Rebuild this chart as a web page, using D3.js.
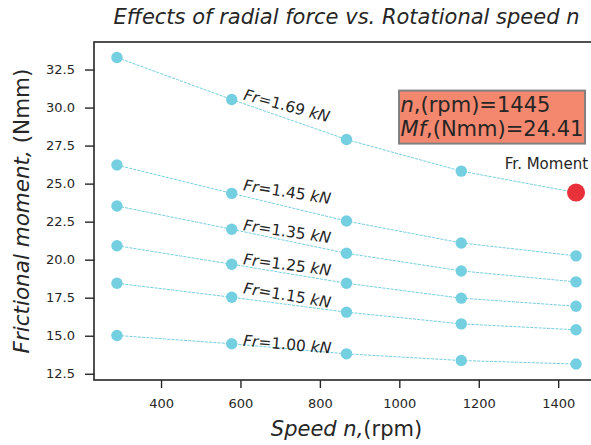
<!DOCTYPE html>
<html>
<head>
<meta charset="utf-8">
<script src="https://cdn.jsdelivr.net/npm/d3@7"></script>
<style>
  html, body { margin: 0; padding: 0; background: #fff; }
  svg { display: block; font-family: "DejaVu Sans", sans-serif; }
</style>
</head>
<body>
<figure id="chart" style="margin:0"></figure>
<script>
// rotational speed n (rpm)
const speeds = [289, 578, 867, 1156, 1445];
// radial force labels (kN)
const forces = ["1.69", "1.45", "1.35", "1.25", "1.15", "1.00"];
// frictional moment (Nmm) per radial force
const m169 = [33.29, 30.53, 27.90, 25.82, 24.41];
const m145 = [26.22, 24.36, 22.54, 21.10, 20.25];
const m135 = [23.53, 22.00, 20.42, 19.26, 18.54];
const m125 = [20.92, 19.70, 18.45, 17.47, 16.94];
const m115 = [18.45, 17.53, 16.55, 15.78, 15.39];
const m100 = [15.02, 14.47, 13.81, 13.37, 13.14];
const xTicks = [400, 600, 800, 1000, 1200, 1400];
const yTicks = [12.5, 15.0, 17.5, 20.0, 22.5, 25.0, 27.5, 30.0, 32.5];
const highlight = { n: 1445, mf: 24.41 };

const series = [m169, m145, m135, m125, m115, m100];
const labelRot = [15, 9, 8.5, 7.5, 9.5, 5];
const labelDy = [0, -3, 1, 0, -4, 2];

const width = 591, height = 445;
const pLeft = 94, pRight = 599, pTop = 42, pBottom = 380;
const ink = "#262626";
const cyan = "#74cfe0";

const svg = d3.select("#chart").append("svg")
  .attr("width", width)
  .attr("height", height);

svg.append("rect").attr("width", width).attr("height", height).attr("fill", "#fff");

const x = d3.scaleLinear().domain([231.2, 1502.8]).range([pLeft, pRight]);
const y = d3.scaleLinear().domain([12.09, 34.31]).range([pBottom, pTop]);

// axes
const xAxis = svg.append("g")
  .attr("transform", `translate(0,${pBottom})`)
  .call(d3.axisBottom(x).tickValues(xTicks).tickFormat(d3.format("d")).tickSize(8).tickPadding(11));
const yAxis = svg.append("g")
  .attr("transform", `translate(${pLeft},0)`)
  .call(d3.axisLeft(y).tickValues(yTicks).tickFormat(d3.format(".1f")).tickSize(9).tickPadding(10));

[xAxis, yAxis].forEach(g => {
  g.select(".domain").remove();
  g.selectAll(".tick line").attr("stroke", ink).attr("stroke-width", 1.4);
  g.selectAll(".tick text").attr("fill", ink).style("font-size", "13px").style("font-family", "DejaVu Sans");
});

// frame
svg.append("rect")
  .attr("x", pLeft).attr("y", pTop)
  .attr("width", pRight - pLeft).attr("height", pBottom - pTop)
  .attr("fill", "none").attr("stroke", ink).attr("stroke-width", 1.6);

const line = d3.line().x((d, i) => x(speeds[i])).y(d => y(d));

series.forEach((vals, k) => {
  svg.append("path")
    .datum(vals)
    .attr("d", line)
    .attr("fill", "none")
    .attr("stroke", cyan)
    .attr("stroke-width", 1)
    .attr("stroke-dasharray", "3,1.2");

  svg.selectAll(null)
    .data(vals.map((v, i) => [speeds[i], v]).filter(d => !(k === 0 && d[0] === highlight.n)))
    .enter()
    .append("circle")
    .attr("cx", d => x(d[0]))
    .attr("cy", d => y(d[1]))
    .attr("r", 5.7)
    .attr("fill", cyan);

  const lx = x(speeds[1]) + 11;
  const ly = y(vals[1]) + labelDy[k];
  const t = svg.append("text")
    .attr("x", lx).attr("y", ly)
    .attr("transform", `rotate(${labelRot[k]},${lx},${ly})`)
    .attr("fill", ink)
    .style("font-size", "15.5px");
  t.append("tspan").style("font-style", "italic").text("Fr");
  t.append("tspan").text("=" + forces[k] + " ");
  t.append("tspan").style("font-style", "italic").text("kN");
});

// highlighted point
const hx = x(highlight.n), hy = y(highlight.mf);
svg.append("circle")
  .attr("cx", hx).attr("cy", hy)
  .attr("r", 9)
  .attr("fill", "#e8313a");

svg.append("text")
  .attr("x", hx + 12).attr("y", hy - 24)
  .attr("text-anchor", "end")
  .attr("fill", ink)
  .style("font-size", "15px")
  .text("Fr. Moment");

// annotation box
const bx = hx - 177, by = hy - 102;
svg.append("rect")
  .attr("x", bx).attr("y", by)
  .attr("width", 186).attr("height", 53)
  .attr("fill", "#f4886e")
  .attr("stroke", "#808080")
  .attr("stroke-width", 2);

const l1 = svg.append("text").attr("x", bx + 1.5).attr("y", by + 21.5)
  .attr("fill", ink).style("font-size", "21px");
l1.append("tspan").style("font-style", "italic").text("n");
l1.append("tspan").text(",(rpm)=" + highlight.n);
const l2 = svg.append("text").attr("x", bx + 1.5).attr("y", by + 45.5)
  .attr("fill", ink).style("font-size", "21px");
l2.append("tspan").style("font-style", "italic").text("Mf");
l2.append("tspan").text(",(Nmm)=" + highlight.mf.toFixed(2));

// title and axis labels
svg.append("text")
  .attr("x", (pLeft + pRight) / 2).attr("y", 23.5)
  .attr("text-anchor", "middle")
  .attr("fill", ink)
  .style("font-size", "21px")
  .style("font-style", "italic")
  .text("Effects of radial force vs. Rotational speed n");

const xl = svg.append("text")
  .attr("x", (pLeft + pRight) / 2).attr("y", 436)
  .attr("text-anchor", "middle")
  .attr("fill", ink)
  .style("font-size", "21px");
xl.append("tspan").style("font-style", "italic").text("Speed n,");
xl.append("tspan").text("(rpm)");

const yl = svg.append("text")
  .attr("transform", `translate(28.5,${(pTop + pBottom) / 2}) rotate(-90)`)
  .attr("text-anchor", "middle")
  .attr("fill", ink)
  .style("font-size", "21.5px");
yl.append("tspan").style("font-style", "italic").text("Frictional moment, ");
yl.append("tspan").text("(Nmm)");
</script>
</body>
</html>
